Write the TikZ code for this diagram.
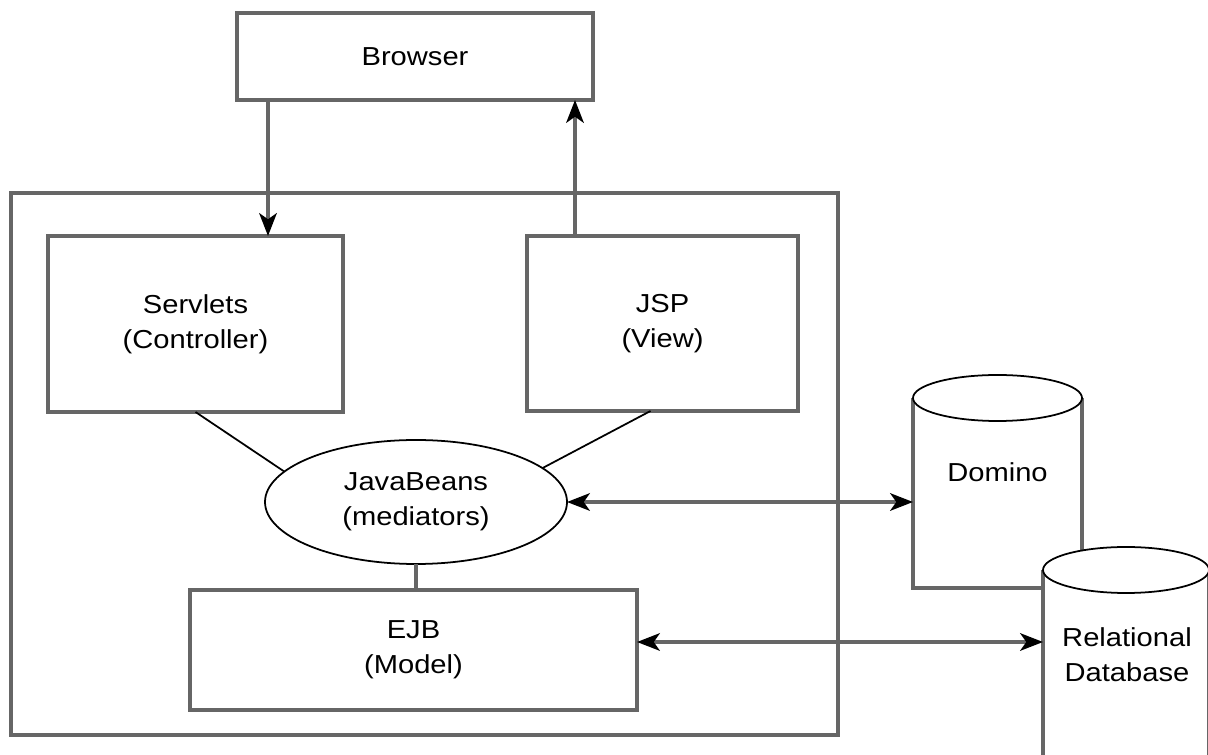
\documentclass[tikz,border=0pt]{standalone}
\usepackage{fontspec}
\setmainfont{Liberation Sans}[FakeStretch=1.12]
\usepackage{tikz}
\usetikzlibrary{shapes.geometric, arrows.meta, positioning}
\tikzstyle{box} = [rectangle, draw=black!60, line width=1.8pt, fill=white, inner sep=0pt, outer sep=0pt, align=center]
\tikzstyle{bean} = [ellipse, draw, line width=1pt, inner sep=0pt, outer sep=0pt, align=center, minimum width=60.4mm, minimum height=24.8mm]
\tikzstyle{dbspace} = [inner sep=0pt, outer sep=0pt]
\tikzstyle{line} = [draw=black!60, line width=1.8pt]
\tikzstyle{thin} = [draw, line width=1pt]
\tikzstyle{arr} = [line, -{Stealth[length=13pt, width=10pt, inset=3.5pt, color=black]}]
\tikzstyle{dbl} = [line, {Stealth[length=13pt, width=10pt, inset=3.5pt, color=black]}-{Stealth[length=13pt, width=10pt, inset=3.5pt, color=black]}]

\begin{document}
\begin{tikzpicture}[x=0.2mm, y=-0.2mm, font=\fontsize{14.8}{20}\selectfont]
			\useasboundingbox (0,0) rectangle (1208,755);
			
			\node [box, minimum width=165.4mm, minimum height=108.4mm] (server) at (424.5,464) {};
			\node [box, minimum width=71.2mm, minimum height=17.4mm] (browser) at (415,56.5) {Browser};
			\node [box, minimum width=59mm, minimum height=35.2mm] (servlets) at (195.5,324) {Servlets\\(Controller)};
			\node [box, minimum width=54.2mm, minimum height=35mm] (jsp) at (662.5,323.5) {JSP\\(View)};
			\node [bean] (beans) at (416,502) {JavaBeans\\(mediators)};
			\node [box, minimum width=89.4mm, minimum height=24mm] (ejb) at (413.5,650) {EJB\\(Model)};
			
			\node [dbspace, minimum width=33.8mm, minimum height=38mm] (domino) at (997.5,493) {};
			\draw [line, fill=white] (domino.north west) -- (domino.south west) -- (domino.south east) -- (domino.north east);
			\draw [thin, fill=white] (domino.north) ellipse [x radius=16.9mm, y radius=4.6mm];
			\node (domlabel) at (997.5,472) {Domino};
			
			\node [dbspace, minimum width=33.2mm, minimum height=48mm] (reldb) at (1126,690) {};
			\draw [line, fill=white] (reldb.north west) -- (reldb.south west) -- (reldb.south east) -- (reldb.north east);
			\draw [thin, fill=white] (reldb.north) ellipse [x radius=16.6mm, y radius=4.6mm];
			\node [align=center] (rellabel) at (1127,655) {Relational\\Database};
			
			\coordinate (req) at (268,0);
			\coordinate (resp) at (575,0);
			
			\path [arr] (browser.south -| req) -- (servlets.north -| req);
			\path [arr] (jsp.north -| resp) -- (browser.south -| resp);
			\path [thin] (servlets.south) -- (beans.167);
			\path [thin] ([xshift=-2.4mm]jsp.south) -- (beans.15);
			\path [line] (beans.south) -- (beans.south |- ejb.north);
			\path [dbl] (beans.east) -- (beans.east -| domino.west);
			\path [dbl] ([yshift=1.6mm]ejb.east) -- ([yshift=1.6mm]ejb.east -| reldb.west);
		\end{tikzpicture}
\end{document}
